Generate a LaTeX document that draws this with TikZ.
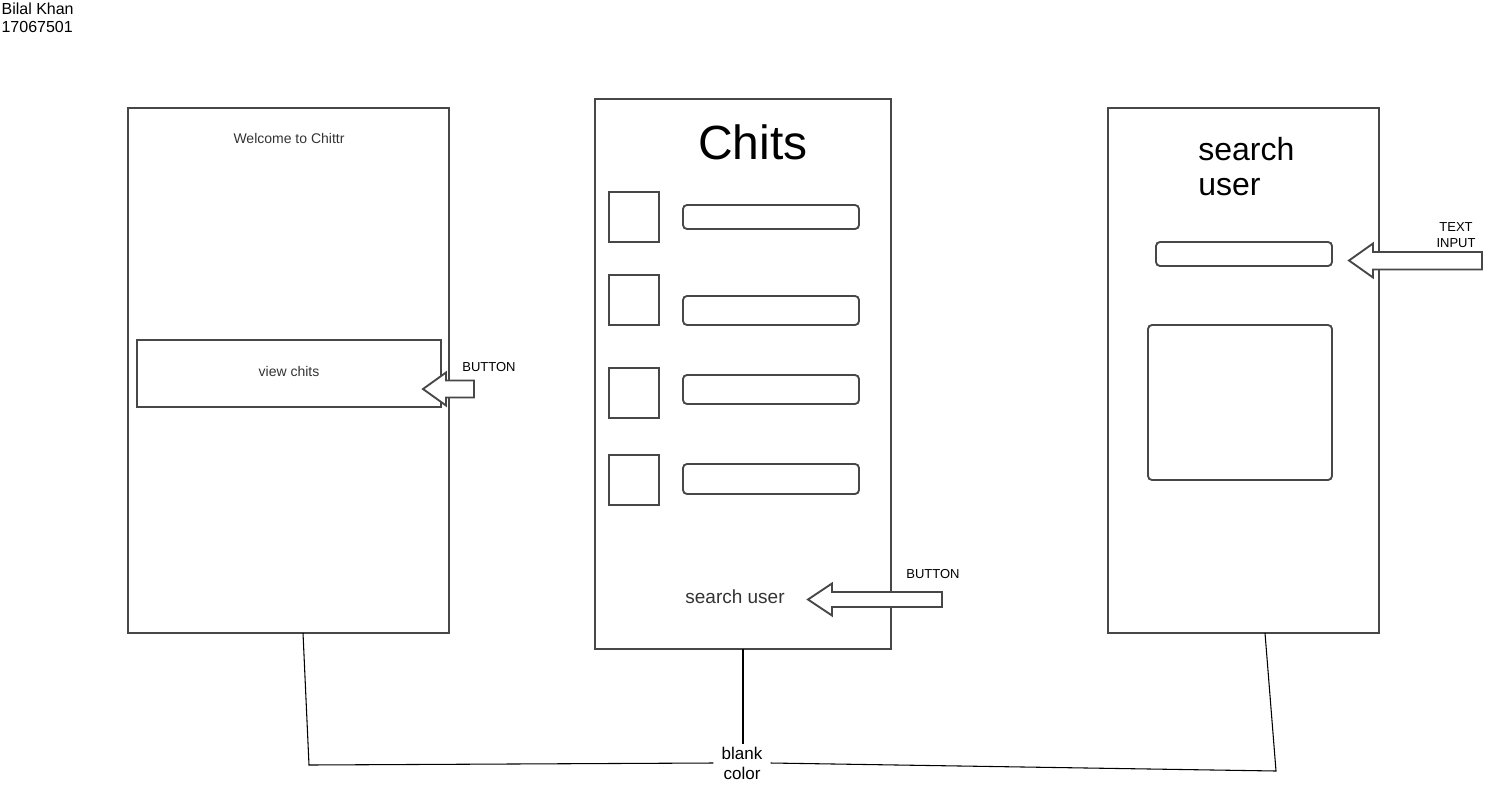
\documentclass[tikz,border=0pt]{standalone}
\usepackage{fontspec}
\setmainfont{Liberation Sans}
\usetikzlibrary{positioning,calc}
\definecolor{linegray}{HTML}{474747}
\definecolor{textgray}{HTML}{333333}
\tikzset{
wire/.style={
    x=0.75pt,
    y=-0.75pt,
    line join=miter
},
screen/.style={
    rectangle,
    draw=linegray,
    line width=1.4pt,
    inner sep=0pt,
    outer sep=0pt
},
avatar/.style={
    screen,
    minimum size=37.5pt
},
field/.style={
    screen,
    rounded corners=3pt,
    minimum width=132pt
},
blockarrow/.style={
    draw=linegray,
    fill=white,
    line width=1.4pt
},
link/.style={
    draw=black,
    line width=0.8pt
},
note/.style={
    font=\fontsize{9.75}{12}\selectfont,
    inner sep=1pt
}}

\begin{document}
\begin{tikzpicture}[wire]
\useasboundingbox (0,0) rectangle (1499,786);

% author
\node[anchor=north west, align=left, inner sep=1pt, font=\fontsize{12}{13.5}\selectfont] (author) at (0,1) {Bilal Khan\\17067501};

% welcome screen
\node[screen, minimum width=240.75pt, minimum height=393.75pt] (welcome) at (288.5,370.5) {};
\node[text=textgray, font=\fontsize{10.5}{12}\selectfont] (welcometitle) at (289,138) {Welcome to Chittr};
\node[screen, minimum width=228pt, minimum height=50.25pt, text=textgray, font=\fontsize{10.5}{12}\selectfont, text depth=3pt] (viewbtn) at (289,373.5) {view chits};

% chits screen
\node[screen, minimum width=222pt, minimum height=412.5pt] (chits) at (743,374) {};
\node[font=\fontsize{36}{40}\selectfont] (chitstitle) at (753,142) {Chits};
\node[avatar] (av1) at (634,217) {};
\node[avatar] (av2) at (634,300) {};
\node[avatar] (av3) at (634,393) {};
\node[avatar] (av4) at (634,480) {};
\node[field, minimum height=18pt]    (msg1) at (771,217)   {};
\node[field, minimum height=21.75pt] (msg2) at (771,310.5) {};
\node[field, minimum height=21.75pt] (msg3) at (771,389.5) {};
\node[field, minimum height=22.5pt]  (msg4) at (771,479)   {};
\node[text=textgray, font=\fontsize{14.25}{16}\selectfont] (searchbtn) at (735,597) {search user};

% search screen
\node[screen, minimum width=203.25pt, minimum height=393.75pt] (search) at (1243.5,370.5) {};
\node[anchor=west, align=left, inner sep=0pt, font=\fontsize{24}{26.25}\selectfont] (searchtitle) at (1198,166.5) {search\\user};
\node[field, minimum height=18pt] (input) at (1244,254) {};
\node[field, minimum width=138pt, minimum height=116.25pt] (result) at (1240,402.5) {};

% block arrows
\draw[blockarrow] (423,389) -- (446,372.5) -- (446,380.5) -- (474,380.5) -- (474,397.5) -- (446,397.5) -- (446,405.5) -- cycle;
\draw[blockarrow] (808,599.5) -- (832,583.5) -- (832,592) -- (942,592) -- (942,607) -- (832,607) -- (832,615.5) -- cycle;
\draw[blockarrow] (1349,260.5) -- (1373,243.5) -- (1373,252) -- (1482,252) -- (1482,269.5) -- (1373,269.5) -- (1373,277.5) -- cycle;
\node[note] (btnlabel1) at (489,367) {BUTTON};
\node[note] (btnlabel2) at (933,574) {BUTTON};
\node[note, align=center] (inputlabel) at (1456,235) {TEXT\\INPUT};

% background colour
\node[align=center, inner xsep=6pt, inner ysep=2pt, font=\fontsize{12.75}{15}\selectfont] (blank) at (742,763) {blank\\color};
\coordinate (lcorner) at (309,765);
\coordinate (rcorner) at (1276,771);

\draw[link] ($(welcome.south)+(14.5,0)$) -- (lcorner) -- (blank.west);
\draw[link] (chits.south) -- (chits.south |- blank.north);
\draw[link] ($(search.south)+(21.5,0)$) -- (rcorner) -- (blank.east);
\end{tikzpicture}
\end{document}
